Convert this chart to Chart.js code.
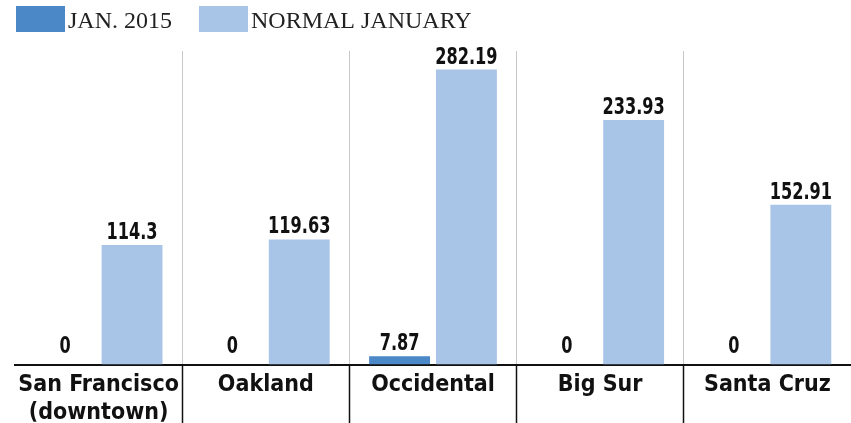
<!DOCTYPE html>
<html>
<head>
<meta charset="utf-8">
<script src="https://cdn.jsdelivr.net/npm/chart.js@4/dist/chart.umd.min.js"></script>
<style>
html,body{margin:0;padding:0;background:#fff;}
#wrap{width:851px;height:423px;position:relative;}
</style>
</head>
<body>
<div id="wrap"><canvas id="c" width="851" height="423"></canvas></div>
<script>
const categories = [["San Francisco","(downtown)"], "Oakland", "Occidental", "Big Sur", "Santa Cruz"];
const seriesNames = ["JAN. 2015", "NORMAL JANUARY"];
const jan2015 = [0, 0, 7.87, 0, 0];
const normalJanuary = [114.3, 119.63, 282.19, 233.93, 152.91];
const seriesColors = ["#4a88c8", "#a8c4e7"];

const condensed = "'Liberation Sans Narrow', 'DejaVu Sans Condensed', sans-serif";

const valueLabels = {
  id: 'valueLabels',
  afterDatasetsDraw(chart) {
    const ctx = chart.ctx;
    chart.data.datasets.forEach((ds, di) => {
      const meta = chart.getDatasetMeta(di);
      meta.data.forEach((el, i) => {
        const v = ds.data[i];
        const gap = v === 0 ? 12 : 6;
        ctx.save();
        ctx.font = "bold 23px " + condensed;
        ctx.fillStyle = "#111";
        ctx.textAlign = "center";
        ctx.textBaseline = "alphabetic";
        ctx.translate(el.x, el.y - gap);
        ctx.scale(0.78, 1);
        ctx.fillText(String(v), 0, 0);
        ctx.restore();
      });
    });
  }
};

const customLegend = {
  id: 'customLegend',
  afterDraw(chart) {
    const ctx = chart.ctx;
    ctx.save();
    ctx.font = "24px 'Liberation Serif', 'DejaVu Serif', serif";
    ctx.textBaseline = "alphabetic";
    let x = 16;
    chart.data.datasets.forEach((ds) => {
      ctx.fillStyle = ds.backgroundColor;
      ctx.fillRect(x, 6, 49, 26);
      x += 49 + 3;
      ctx.fillStyle = "#222";
      ctx.fillText(ds.label, x, 28);
      x += ctx.measureText(ds.label).width + 27;
    });
    ctx.restore();
  }
};

const isEdge = (c) => c.index === 0 || c.index === undefined;

new Chart(document.getElementById('c'), {
  type: 'bar',
  data: {
    labels: categories,
    datasets: [
      { label: seriesNames[0], data: jan2015, backgroundColor: seriesColors[0] },
      { label: seriesNames[1], data: normalJanuary, backgroundColor: seriesColors[1] }
    ]
  },
  options: {
    responsive: false,
    animation: false,
    devicePixelRatio: 1,
    layout: { padding: { top: 51, left: 15, right: 0, bottom: 0 } },
    datasets: { bar: { categoryPercentage: 0.8, barPercentage: 0.91 } },
    plugins: { legend: { display: false }, tooltip: { enabled: false } },
    scales: {
      x: {
        offset: true,
        grid: {
          offset: true,
          drawOnChartArea: true,
          drawTicks: true,
          tickLength: 60,
          color: (c) => isEdge(c) ? 'rgba(0,0,0,0)' : '#c8c8c8',
          tickColor: (c) => isEdge(c) ? 'rgba(0,0,0,0)' : '#111',
          lineWidth: 1,
          tickWidth: 1.5
        },
        border: { display: true, color: '#111', width: 2 },
        ticks: {
          color: '#111',
          padding: -53,
          maxRotation: 0,
          autoSkip: false,
          font: { family: condensed, size: 23, weight: 'bold', lineHeight: 1.2 }
        },
        afterFit: (s) => { s.height = 58.5; }
      },
      y: {
        display: false,
        min: 0,
        max: 300
      }
    }
  },
  plugins: [valueLabels, customLegend]
});
</script>
</body>
</html>
